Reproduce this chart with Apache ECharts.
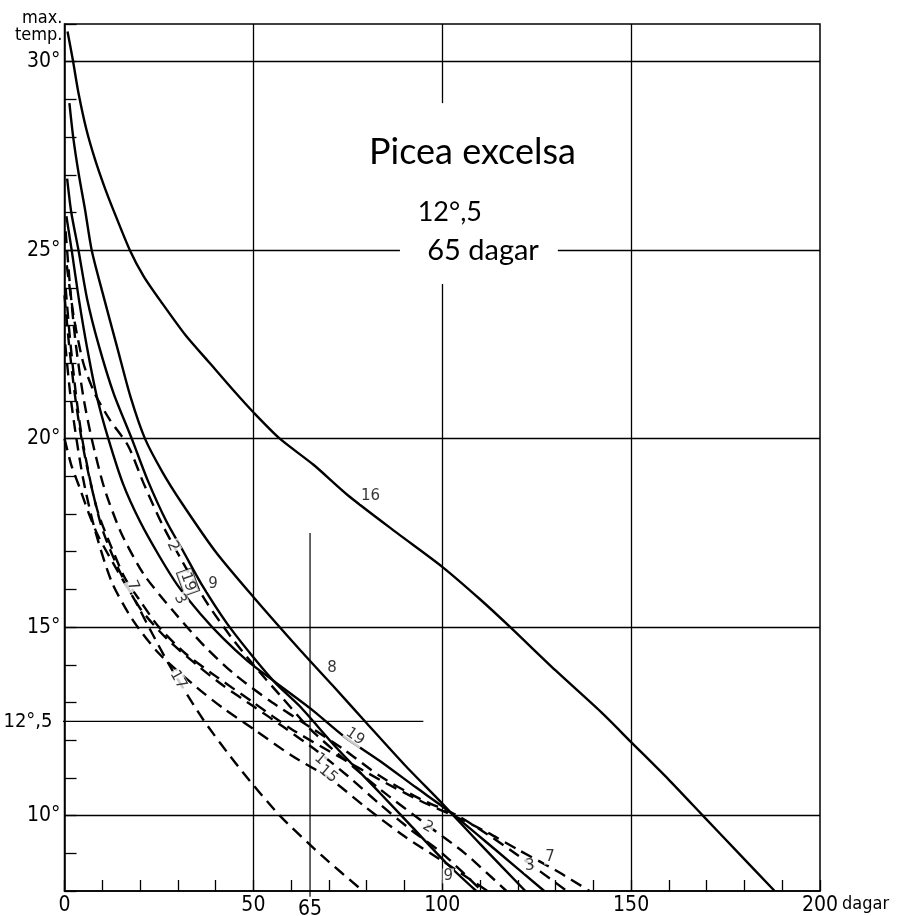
<!DOCTYPE html>
<html><head><meta charset="utf-8">
<script src="https://cdn.jsdelivr.net/npm/echarts@6/dist/echarts.min.js"></script>
<style>html,body{margin:0;padding:0;background:#fff}#c{width:899px;height:916px}</style>
</head><body><div id="c"></div>
<script>
// ---- data (days, max temp) ----
const c16 = [[0.8,30.8],[2.2,30.05],[3.7,29.17],[5.8,28.2],[8.1,27.4],[10.5,26.7],[13,26.05],[17.3,25.0],[21,24.3],[25.8,23.6],[32,22.75],[38.5,22],[45,21.25],[50,20.7],[57,20],[66,19.3],[75,18.5],[88,17.5],[100,16.6],[110,15.74],[118,15],[130,13.85],[142,12.75],[150,11.95],[160,10.95],[169,10],[178,9.05],[188,8]];
const c8  = [[1.3,28.9],[2.3,28],[3.8,27],[5.4,26.1],[7.2,25],[10,23.9],[14,22.4],[17.5,21.1],[21.3,20],[26,19.1],[31,18.3],[40,17],[50,15.8],[62.3,14.4],[71,13.45],[80,12.45],[90,11.35],[100.2,10.3],[110,9.25],[122,8]];
const c9  = [[0.7,26.9],[1.8,26],[3.7,25],[6,23.7],[9,22.5],[13,21.2],[17.8,20],[22,18.9],[27,17.8],[31.5,17],[36.5,16.1],[43,15.1],[50,14.2],[56,13.5],[62.3,12.9],[72,11.8],[83.5,10.6],[92,9.7],[101,8.75],[109,8]];
const c19 = [[0.5,25.9],[1.9,25],[3.8,23.7],[6,22.4],[8.6,21.1],[11.6,20],[15.5,18.8],[20,17.8],[25,16.9],[30,16.1],[36,15.35],[42,14.7],[48.5,14.1],[55,13.6],[65,12.85],[74,12.1],[83.5,11.45],[93,10.75],[102,10.1],[114,9.1],[127,8]];
const c3  = [[0.3,25.5],[1.5,24],[3,22.5],[5,21.1],[7.2,20],[10.5,18.7],[15,17.5],[21,16.4],[29,15.4],[37,14.5],[45,13.75],[55,13],[65,12.35],[74,11.75],[83.5,11.05],[94,10.45],[104,10],[112,9.5],[120,8.95],[133,8]];
const c2  = [[0.6,24.6],[2.5,23.2],[5,22],[8,21.2],[12,20.5],[16.9,19.8],[21,18.8],[26,17.7],[32,16.6],[38,15.6],[44,14.75],[50,14.0],[57,13.2],[65,12.3],[74,11.5],[83.5,10.7],[96,9.75],[106,9],[117,8]];
const c1  = [[0.3,24],[1.5,22.6],[3,21.2],[4.5,20.1],[7,18.8],[10,17.6],[14.5,16.5],[20,15.5],[27,14.7],[35,14],[42,13.45],[50,12.9],[58,12.35],[67,11.7],[75,11.05],[83.5,10.3],[92,9.6],[100,9],[110.5,8]];
const c15 = [[0.2,22.5],[1.5,21.2],[3,20.1],[5,18.9],[8,17.6],[12.5,16.2],[18,15.2],[25,14.3],[35,13.4],[42,12.85],[50,12.3],[60,11.6],[70,11],[80,10.2],[90,9.45],[100,8.8],[112,8]];
const c7  = [[0,23.8],[1.2,22.5],[2.7,21.2],[4.5,20],[6.5,19],[9,18],[12.5,17.1],[16,16.3],[20,15.7],[25,15],[32,14.3],[40,13.7],[50,13.0],[60,12.3],[72,11.6],[83.5,10.95],[94,10.4],[104,9.95],[112,9.55],[120,9.1],[130,8.55],[139,8]];
const c17 = [[0,20],[1.8,19.3],[4,18.7],[6.5,18],[9,17.4],[14,16.5],[18.7,15.7],[21.8,15.1],[28,13.95],[36.7,12.55],[46,11.3],[57,10],[68,8.95],[79,8]];

const curveNames = ['16','8','9','19','3','2','1','15','7','17'];
const curveData  = [c16, c8, c9, c19, c3, c2, c1, c15, c7, c17];
const curveDashed = [false,false,false,false,true,true,true,true,true,true];

// curve number labels: [text, day, temp, rotate]
const curveLabels = [
  ['16',81,18.47,0],['8',70.8,13.9,0],['19',76.9,12.1,-35],['1',67.6,11.5,-40],['15',69.8,11.1,-40],
  ['2',96.2,9.7,-30],['9',101.6,8.4,0],['3',123.2,8.67,0],['7',128.5,8.9,0],
  ['9',39.3,16.14,0],['19',32.7,16.2,-70],['2',28.7,17.15,-65],['3',30.6,15.74,-65],['7',18.1,16.1,-65],['17',30.1,13.6,-60]
];
const boxedLabel = 10;

const yMajor = [10,15,20,25,30];
const xMajor = [0,50,100,150,200];
const gridY = [10,15,20,30];
const gridX = [50,150];
const refTemp = 12.5, refDays = 65;

const chart = echarts.init(document.getElementById('c'));
const INK = '#000';
const AXF = '"DejaVu Sans Condensed", "Liberation Sans Narrow", "DejaVu Sans"';
const series = curveData.map((d,i)=>({
  name: curveNames[i], type:'line', data:d, showSymbol:false, smooth:0.25,
  lineStyle:{color:INK, width:2.4, type: curveDashed[i] ? [12,7] : 'solid'}, z:5
}));

// grid lines
series.push({
  type:'line', data:[], silent:true,
  markLine:{ silent:true, symbol:'none', label:{show:false}, animation:false,
    lineStyle:{color:INK, width:1.3, type:'solid'},
    data: [
      ...gridY.map(v=>[{coord:[0,v]},{coord:[200,v]}]),
      ...gridX.map(x=>[{coord:[x,8]},{coord:[x,31]}]),
      [{coord:[0,25]},{coord:[88.8,25]}],
      [{coord:[130.6,25]},{coord:[200,25]}],
      [{coord:[100,8]},{coord:[100,24.1]}],
      [{coord:[100,28.9]},{coord:[100,31]}]
    ]}
});
// reference lines 12.5 deg and 65 days
series.push({type:'line', data:[[-2,refTemp],[95,refTemp]], clip:false, showSymbol:false, silent:true,
  lineStyle:{color:INK,width:1.2}, z:3});
series.push({type:'line', data:[[refDays,17.5],[refDays,7.85]], clip:false, showSymbol:false, silent:true,
  lineStyle:{color:INK,width:1.2}, z:3});
// curve labels
series.push({type:'scatter', symbolSize:0, silent:true, z:10,
  data: curveLabels.map((l,i)=>({value:[l[1],l[2]], label:{show:true, position:'inside', formatter:l[0], rotate:l[3],
    color:INK, fontFamily:'DejaVu Sans', fontSize:15,
    backgroundColor: '#fff', padding: i===boxedLabel ? [0,2] : [0,1],
    borderColor: i===boxedLabel ? INK : 'transparent', borderWidth: i===boxedLabel ? 1 : 0}}))
});

chart.setOption({
  animation:false,
  backgroundColor:'#fff',
  grid:{left:64.5, right:79, top:24, bottom:24, show:true, borderColor:INK, borderWidth:1.5, backgroundColor:'transparent'},
  xAxis:{type:'value', min:0, max:200, interval:10,
    axisLine:{lineStyle:{color:INK,width:1.5}},
    axisTick:{inside:true, length:11, lineStyle:{color:INK,width:1.3}},
    splitLine:{show:false},
    axisLabel:{formatter:v=> xMajor.includes(v)? String(v):'', color:INK, fontFamily:AXF, fontSize:21, margin:4}
  },
  yAxis:{type:'value', min:8, max:31, interval:1,
    axisLine:{lineStyle:{color:INK,width:1.5}},
    axisTick:{inside:true, length:12, lineStyle:{color:INK,width:1.3}},
    splitLine:{show:false},
    axisLabel:{formatter:v=> yMajor.includes(v)? v+'°':'', color:INK, fontFamily:AXF, fontSize:21, margin:4}
  },
  series
});

function px(x,y){return chart.convertToPixel({gridIndex:0},[x,y]);}
const p0 = px(0,31), p65 = px(refDays,8), p200 = px(200,8), p125 = px(0,refTemp);
const pT = px(108,27.6), pS = px(102,26), pD = px(110.8,25);
chart.setOption({graphic:[
  {type:'text', x:p0[0]-2, y:p0[1]+3, style:{text:'max.\ntemp.', font:'18px '+AXF, fill:INK, align:'right', verticalAlign:'middle', lineHeight:17}},
  {type:'text', x:p65[0], y:p65[1]+8, style:{text:String(refDays), font:'21px '+AXF, fill:INK, align:'center', verticalAlign:'top'}},
  {type:'text', x:p200[0]+22, y:p200[1]+4, style:{text:'dagar', font:'18px '+AXF, fill:INK, align:'left', verticalAlign:'top'}},
  {type:'text', x:p125[0]-12, y:p125[1], style:{text:'12°,5', font:'20px '+AXF, fill:INK, align:'right', verticalAlign:'middle'}},
  {type:'text', x:pT[0], y:pT[1], style:{text:'Picea excelsa', font:'36px Lato', fill:INK, align:'center', verticalAlign:'middle'}},
  {type:'text', x:pS[0], y:pS[1], style:{text:'12°,5', font:'27px Lato', fill:INK, align:'center', verticalAlign:'middle'}},
  {type:'text', x:pD[0], y:pD[1], style:{text:'65 dagar', font:'29px Lato', fill:INK, align:'center', verticalAlign:'middle'}}
]});
</script></body></html>
